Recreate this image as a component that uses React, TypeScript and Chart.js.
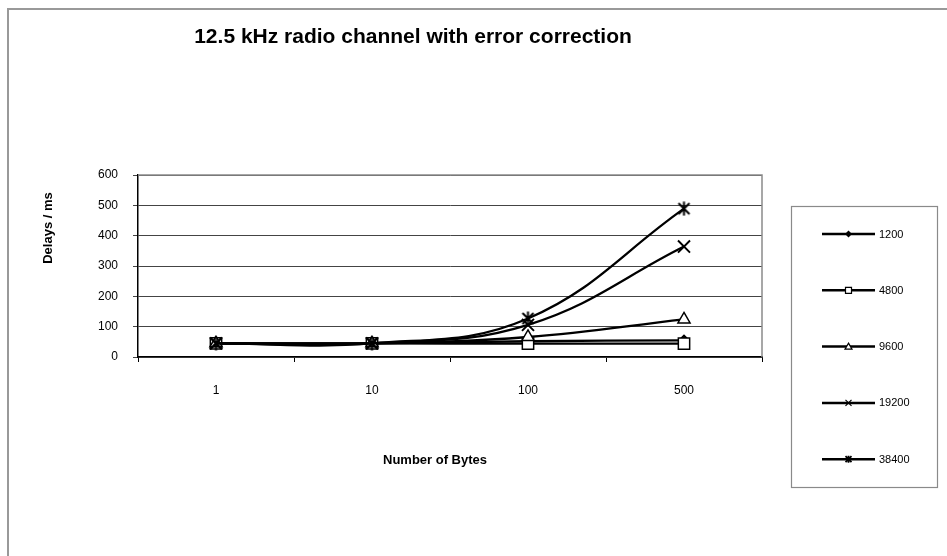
import React, { useEffect, useRef } from 'react';
import { Chart, registerables } from 'chart.js';

Chart.register(...registerables);

const categories = ['1', '10', '100', '500'];
const seriesNames = ['1200', '4800', '9600', '19200', '38400'];
const values1200 = [45, 45, 52, 55];
const values4800 = [45, 45, 44, 44];
const values9600 = [45, 45, 66, 124];
const values19200 = [45, 45, 106, 364];
const values38400 = [45, 45, 127, 489];
const yTickValues = [0, 100, 200, 300, 400, 500, 600];

const chartTitle = '12.5 kHz radio channel with error correction';
const xAxisTitle = 'Number of Bytes';
const yAxisTitle = 'Delays / ms';

const FONT = '"Liberation Sans", Arial, sans-serif';

function makeAsterisk(): HTMLCanvasElement {
  const c = document.createElement('canvas');
  c.width = 15;
  c.height = 15;
  const g = c.getContext('2d')!;
  g.strokeStyle = '#000';
  g.lineWidth = 2;
  g.beginPath();
  g.moveTo(2, 2); g.lineTo(13, 13);
  g.moveTo(13, 2); g.lineTo(2, 13);
  g.moveTo(7.5, 0.5); g.lineTo(7.5, 14.5);
  g.stroke();
  return c;
}

function drawLegendMarker(ctx: CanvasRenderingContext2D, kind: number, x: number, y: number) {
  ctx.save();
  ctx.strokeStyle = '#000';
  ctx.fillStyle = '#000';
  ctx.lineWidth = 1.2;
  ctx.beginPath();
  if (kind === 0) {
    ctx.moveTo(x, y - 3.5); ctx.lineTo(x + 3.5, y); ctx.lineTo(x, y + 3.5); ctx.lineTo(x - 3.5, y); ctx.closePath();
    ctx.fill();
  } else if (kind === 1) {
    ctx.fillStyle = '#fff';
    ctx.rect(x - 3, y - 3, 6, 6);
    ctx.fill(); ctx.stroke();
  } else if (kind === 2) {
    ctx.fillStyle = '#fff';
    ctx.moveTo(x, y - 3.5); ctx.lineTo(x + 3.5, y + 2.5); ctx.lineTo(x - 3.5, y + 2.5); ctx.closePath();
    ctx.fill(); ctx.stroke();
  } else if (kind === 3) {
    ctx.moveTo(x - 3, y - 3); ctx.lineTo(x + 3, y + 3);
    ctx.moveTo(x + 3, y - 3); ctx.lineTo(x - 3, y + 3);
    ctx.stroke();
  } else {
    ctx.moveTo(x - 3, y - 3); ctx.lineTo(x + 3, y + 3);
    ctx.moveTo(x + 3, y - 3); ctx.lineTo(x - 3, y + 3);
    ctx.moveTo(x, y - 3.5); ctx.lineTo(x, y + 3.5);
    ctx.lineWidth = 1.8;
    ctx.stroke();
  }
  ctx.restore();
}

const decorPlugin = {
  id: 'decor',
  beforeDraw(chart: any) {
    const ctx = chart.ctx as CanvasRenderingContext2D;
    ctx.save();
    ctx.fillStyle = '#fff';
    ctx.fillRect(0, 0, chart.width, chart.height);
    ctx.strokeStyle = '#999';
    ctx.lineWidth = 2;
    ctx.beginPath();
    ctx.moveTo(8, chart.height + 2);
    ctx.lineTo(8, 9);
    ctx.lineTo(chart.width + 2, 9);
    ctx.stroke();
    ctx.restore();
  },
  beforeDatasetsDraw(chart: any) {
    const ctx = chart.ctx as CanvasRenderingContext2D;
    const a = chart.chartArea;
    ctx.save();
    ctx.strokeStyle = '#8a8a8a';
    ctx.lineWidth = 1.5;
    ctx.beginPath();
    ctx.moveTo(a.left, a.top);
    ctx.lineTo(a.right, a.top);
    ctx.lineTo(a.right, a.bottom);
    ctx.stroke();
    ctx.restore();
  },
  afterDraw(chart: any) {
    const ctx = chart.ctx as CanvasRenderingContext2D;
    ctx.save();
    ctx.fillStyle = '#000';
    ctx.textAlign = 'center';
    ctx.textBaseline = 'middle';
    ctx.font = `bold 21px ${FONT}`;
    ctx.fillText(chartTitle, 413, 37);
    ctx.font = `bold 13px ${FONT}`;
    ctx.fillText(xAxisTitle, 435, 460);
    ctx.save();
    ctx.translate(48, 228);
    ctx.rotate(-Math.PI / 2);
    ctx.font = `bold 13px ${FONT}`;
    ctx.fillText(yAxisTitle, 0, 0);
    ctx.restore();

    // legend
    ctx.strokeStyle = '#8a8a8a';
    ctx.lineWidth = 1.2;
    ctx.strokeRect(791.5, 206.5, 146, 281);
    ctx.font = `11px ${FONT}`;
    ctx.textAlign = 'left';
    const ds = chart.data.datasets;
    for (let i = 0; i < ds.length; i++) {
      const y = 234 + i * 56.3;
      ctx.strokeStyle = '#000';
      ctx.lineWidth = 2.5;
      ctx.beginPath();
      ctx.moveTo(822, y);
      ctx.lineTo(875, y);
      ctx.stroke();
      drawLegendMarker(ctx, i, 848.5, y);
      ctx.fillStyle = '#000';
      ctx.fillText(ds[i].label, 879, y + 0.5);
    }
    ctx.restore();
  },
};

export default function App() {
  const ref = useRef<HTMLCanvasElement | null>(null);

  useEffect(() => {
    if (!ref.current) return;
    const asterisk = makeAsterisk();
    const base = {
      borderColor: '#000',
      borderWidth: 2.3,
      tension: 0.4,
      fill: false,
      pointBorderColor: '#000',
      pointBorderWidth: 1.5,
    };
    const chart = new Chart(ref.current, {
      type: 'line',
      data: {
        labels: categories,
        datasets: [
          { ...base, order: 5, label: seriesNames[0], data: values1200, pointStyle: 'rectRot', pointRadius: 5, pointBackgroundColor: '#000' },
          { ...base, order: 4, label: seriesNames[1], data: values4800, pointStyle: 'rect', pointRadius: 8, pointBackgroundColor: '#fff' },
          { ...base, order: 3, label: seriesNames[2], data: values9600, pointStyle: 'triangle', pointRadius: 7, pointBackgroundColor: '#fff' },
          { ...base, order: 2, label: seriesNames[3], data: values19200, pointStyle: 'crossRot', pointRadius: 8.5, pointBorderWidth: 2, pointBackgroundColor: '#000' },
          { ...base, order: 1, label: seriesNames[4], data: values38400, pointStyle: asterisk as any, pointRadius: 7, pointBackgroundColor: '#000' },
        ] as any,
      },
      options: {
        responsive: false,
        animation: false,
        events: [],
        layout: { padding: { left: 0, top: 175, right: 185, bottom: 0 } },
        plugins: {
          legend: { display: false },
          title: { display: false },
          tooltip: { enabled: false },
        },
        scales: {
          x: {
            type: 'category',
            offset: true,
            grid: {
              offset: true,
              drawOnChartArea: false,
              drawTicks: true,
              tickLength: 5,
              color: '#000',
            },
            border: { color: '#000', width: 1.2 },
            ticks: {
              color: '#000',
              padding: 21,
              maxRotation: 0,
              font: { family: FONT, size: 12 },
            },
            afterFit: (s: any) => { s.height = 199; },
          },
          y: {
            min: yTickValues[0],
            max: yTickValues[yTickValues.length - 1],
            afterBuildTicks: (s: any) => { s.ticks = yTickValues.map((v) => ({ value: v })); },
            grid: { color: '#444', lineWidth: 1, tickLength: 5 },
            border: { color: '#000', width: 1.5 },
            ticks: {
              color: '#000',
              padding: 15,
              font: { family: FONT, size: 12 },
            },
            afterFit: (s: any) => { s.width = 138; },
          },
        },
      } as any,
      plugins: [decorPlugin],
    });
    return () => chart.destroy();
  }, []);

  return (
    <div style={{ position: 'absolute', left: 0, top: 0, width: 947, height: 556, background: '#fff' }}>
      <canvas ref={ref} width={947} height={556} style={{ width: 947, height: 556, display: 'block' }} />
    </div>
  );
}
